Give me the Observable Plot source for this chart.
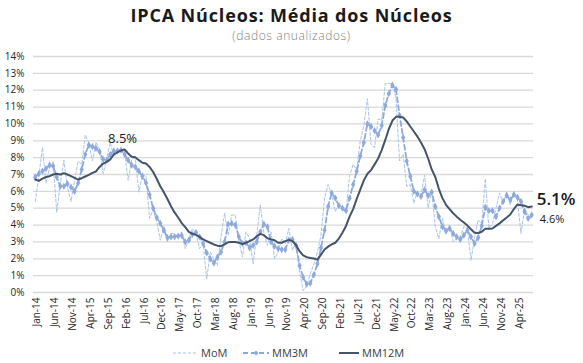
<!DOCTYPE html>
<html><head><meta charset="utf-8">
<script src="https://cdn.jsdelivr.net/npm/d3@7"></script>
<script src="https://cdn.jsdelivr.net/npm/@observablehq/plot@0.6"></script>
<style>
html,body{margin:0;padding:0;background:#fff;overflow:hidden;}
#wrap{position:relative;width:583px;height:363px;overflow:hidden;font-family:"Open Sans",sans-serif;}
#title{position:absolute;left:0;width:583px;top:5px;text-align:center;font-weight:700;font-size:18px;letter-spacing:0.85px;line-height:20px;color:#1a1a1a;white-space:nowrap;}
#sub{position:absolute;left:0;width:583px;top:29px;text-align:center;font-weight:300;font-size:12px;letter-spacing:0.6px;line-height:14px;color:#7f7f7f;white-space:nowrap;}
#chart{position:absolute;left:0;top:0;}
.lg{position:absolute;top:345px;font-size:11px;line-height:15px;color:#404040;display:flex;align-items:center;white-space:nowrap;}
.lg svg{margin-right:3px;}
</style></head>
<body><div id="wrap">
<div id="chart"></div>
<div id="title">IPCA Núcleos: Média dos Núcleos</div>
<div id="sub">(dados anualizados)</div>
<div class="lg" style="left:173px"><svg width="25" height="6"><line x1="0" y1="3" x2="25" y2="3" stroke="#a9c4eb" stroke-width="1" stroke-dasharray="3,2"/></svg>MoM</div>
<div class="lg" style="left:243px"><svg width="26" height="8"><line x1="0" y1="4" x2="26" y2="4" stroke="#8eaadb" stroke-width="1.8" stroke-dasharray="5,3"/><path d="M13,1.5 L15.5,4 L13,6.5 L10.5,4Z" fill="#8eaadb"/></svg>MM3M</div>
<div class="lg" style="left:339px"><svg width="20" height="6"><line x1="0" y1="3" x2="20" y2="3" stroke="#44546a" stroke-width="2"/></svg>MM12M</div>
</div>
<script>
const monthNames = ["Jan","Feb","Mar","Apr","May","Jun","Jul","Aug","Sep","Oct","Nov","Dec"];
const years = [14,15,16,17,18,19,20,21,22,23,24,25];
const lastMonthCount = 8; // data ends Aug-25

const mom = [
 5.40,6.90,8.60,6.50,7.40,7.75,4.75,6.45,7.85,6.25,
 5.40,6.65,7.80,7.60,9.35,8.85,7.80,8.90,8.50,7.05,
 7.95,8.90,8.05,8.30,8.50,8.35,6.65,7.90,8.00,5.95,
 7.00,6.90,4.40,4.90,4.20,3.10,3.90,3.00,3.50,3.50,
 3.30,3.60,2.60,3.20,3.80,3.50,2.60,2.90,0.80,2.40,
 2.00,1.60,3.30,4.70,3.40,4.60,4.60,3.10,2.10,3.60,
 3.20,1.70,3.40,5.20,3.50,2.80,3.60,2.00,2.40,3.20,
 2.90,3.80,2.50,3.00,1.20,0.10,0.40,1.10,1.70,2.40,
 3.40,5.60,6.40,5.80,4.80,5.30,4.90,4.80,6.90,7.60,
 7.30,9.00,9.90,11.50,8.80,8.60,10.30,10.20,12.40,12.40,
 12.40,11.50,7.80,8.20,6.30,6.40,5.30,6.00,5.80,6.95,
 5.00,6.00,3.90,3.20,4.40,3.50,4.00,3.00,3.20,3.30,
 3.90,3.80,1.90,3.30,4.30,4.10,6.75,3.80,4.10,5.00,
 5.90,5.30,6.00,5.20,6.00,5.50,3.50,5.00,4.60,4.30
];
const mm3m = [
 6.85,7.05,7.20,7.35,7.55,7.50,6.85,6.30,6.30,6.45,
 6.25,6.00,6.50,7.30,8.20,8.75,8.65,8.55,8.35,7.90,
 7.85,8.20,8.40,8.40,8.45,8.20,7.85,7.55,7.45,7.20,
 6.90,6.50,5.80,5.00,4.45,4.10,3.70,3.25,3.30,3.30,
 3.35,3.38,3.00,3.10,3.45,3.55,3.30,2.90,2.35,2.00,
 1.75,2.10,2.40,3.00,4.05,4.10,4.00,3.30,2.90,2.95,
 2.65,2.80,3.00,3.60,4.05,3.90,3.00,2.75,2.60,2.55,
 2.55,3.10,3.15,2.80,1.60,0.90,0.50,0.55,1.05,1.70,
 2.65,3.70,5.10,5.90,5.60,5.15,5.00,4.85,5.60,6.40,
 7.20,8.10,8.90,10.00,9.85,9.60,9.35,9.90,11.10,11.80,
 12.30,12.05,10.50,9.20,7.80,6.90,6.00,5.85,5.70,6.10,
 5.75,5.95,5.10,4.50,3.90,3.65,3.80,3.50,3.30,3.15,
 3.40,3.70,3.30,2.90,3.25,3.95,5.05,4.85,4.85,4.50,
 5.00,5.40,5.75,5.50,5.80,5.65,5.40,4.80,4.40,4.60
];
const mm12m = [
 6.70,6.62,6.75,6.85,6.90,7.00,7.05,7.00,7.08,7.00,
 6.90,6.80,6.70,6.78,6.88,6.98,7.10,7.18,7.45,7.65,
 7.75,7.90,8.20,8.32,8.42,8.48,8.25,8.05,8.02,7.85,
 7.70,7.65,7.45,7.15,6.75,6.30,5.95,5.55,5.12,4.75,
 4.45,4.12,3.88,3.60,3.48,3.42,3.30,3.15,3.05,2.95,
 2.85,2.78,2.75,2.85,2.98,3.00,3.00,2.95,2.88,2.95,
 3.05,3.15,3.33,3.48,3.40,3.22,3.15,3.10,2.95,2.95,
 3.05,3.12,3.05,2.82,2.45,2.20,2.10,2.05,2.02,1.95,
 2.25,2.55,2.72,2.85,2.95,3.20,3.55,3.95,4.50,4.95,
 5.55,6.10,6.65,7.05,7.25,7.60,7.95,8.45,9.05,9.70,
 10.20,10.42,10.43,10.38,10.15,9.85,9.55,9.25,8.90,8.50,
 7.95,7.30,6.85,6.15,5.60,5.20,4.95,4.70,4.50,4.32,
 4.15,3.97,3.75,3.55,3.53,3.60,3.78,3.78,3.80,3.95,
 4.10,4.28,4.45,4.63,4.95,5.22,5.18,5.15,5.06,5.10
];
const yTicks = [0,1,2,3,4,5,6,7,8,9,10,11,12,13,14];
const tickStep = 5;
const peakIndex = 25;

const months = [];
years.forEach((y,k)=>{
  const n = k === years.length-1 ? lastMonthCount : 12;
  for(let m=0;m<n;m++) months.push(monthNames[m]+"-"+y);
});
const data = months.map((m,i)=>({i, m, mom:mom[i], mm3m:mm3m[i], mm12m:mm12m[i]}));
const xTicks = months.map((_,i)=>i).filter(i=>i%tickStep===0);
const last = data[data.length-1];
const fmt = v => v.toFixed(1)+"%";

const chart = Plot.plot({
  width:583, height:363,
  marginTop:56, marginBottom:71, marginLeft:33, marginRight:50,
  style:{fontFamily:"Open Sans, sans-serif", fontSize:"10px", color:"#262626", background:"transparent", overflow:"visible"},
  x:{type:"linear", domain:[-0.5, months.length-0.5], axis:null},
  y:{domain:[0,14], axis:null},
  marks:[
    Plot.ruleY(yTicks, {stroke:"#d9d9d9", strokeWidth:1.3}),
    Plot.axisY(yTicks, {tickSize:0, tickPadding:9, tickFormat:d=>d+"%", fontSize:10, label:null}),
    Plot.axisX(xTicks, {tickSize:0, tickPadding:5, tickRotate:-90, tickFormat:i=>months[i], fontSize:10, dx:2, label:null}),
    Plot.line(data, {x:"i", y:"mom", stroke:"#a9c4eb", strokeWidth:1, strokeDasharray:"3,2"}),
    Plot.line(data, {x:"i", y:"mm3m", stroke:"#8eaadb", strokeWidth:1.8, strokeDasharray:"5,3"}),
    Plot.dot(data, {x:"i", y:"mm3m", symbol:"diamond", r:2.2, fill:"#8eaadb", stroke:"none"}),
    Plot.line(data, {x:"i", y:"mm12m", stroke:"#44546a", strokeWidth:2}),
    Plot.text([data[peakIndex]], {x:"i", y:"mm12m", text:d=>fmt(d.mm12m), dy:-11, dx:-2, fontSize:13, fill:"#1a1a1a"}),
    Plot.text([last], {x:"i", y:"mm12m", text:d=>fmt(d.mm12m), textAnchor:"start", dx:5, dy:-7, fontSize:17, fontWeight:600, fill:"#1a1a1a"}),
    Plot.text([last], {x:"i", y:"mm3m", text:d=>fmt(d.mm3m), textAnchor:"start", dx:8, dy:4.5, fontSize:11, fill:"#1a1a1a"})
  ]
});
document.getElementById("chart").appendChild(chart);
</script>
</body></html>
